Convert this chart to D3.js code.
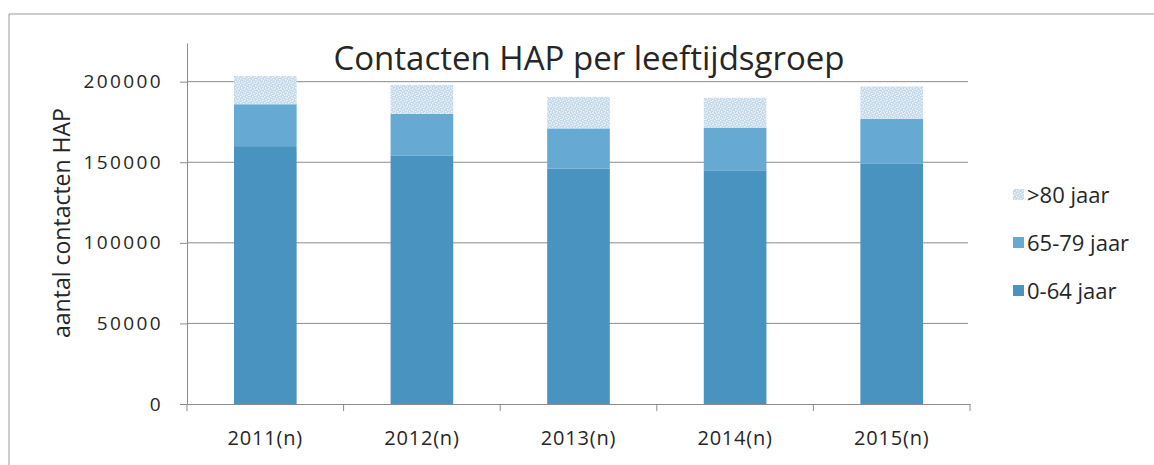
<!DOCTYPE html>
<html>
<head>
<meta charset="utf-8">
<script src="https://cdn.jsdelivr.net/npm/d3@7"></script>
<style>
  body { margin: 0; background: #fff; }
  text { font-family: "Open Sans", "Noto Sans", sans-serif; fill: #262626; }
</style>
</head>
<body>
<svg width="1154" height="465"></svg>
<script>
var svg = d3.select('svg');

// data
const years = ["2011(n)", "2012(n)", "2013(n)", "2014(n)", "2015(n)"];
const age0_64 = [160000, 154000, 146000, 145000, 149000];
const age65_79 = [26000, 26000, 25000, 26500, 28000];
const age80 = [17500, 18000, 19500, 18500, 20000];
const seriesNames = ["0-64 jaar", "65-79 jaar", ">80 jaar"];
const yTicks = [0, 50000, 100000, 150000, 200000];

var rows = years.map((y, i) => ({
    year: y,
    "0-64 jaar": age0_64[i],
    "65-79 jaar": age65_79[i],
    ">80 jaar": age80[i]
}));

var stacked = d3.stack().keys(seriesNames)(rows);

var xScale = d3.scaleBand()
    .domain(years)
    .range([187, 970])
    .paddingInner(0.6)
    .paddingOuter(0.3);

var yScale = d3.scaleLinear()
    .domain([0, 224000])
    .range([404, 43]);

// speckled fill for the >80 group
var defs = svg.append("defs");
var pat = defs.append("pattern")
    .attr("id", "speckle")
    .attr("width", 6)
    .attr("height", 6)
    .attr("patternUnits", "userSpaceOnUse");
pat.append("rect").attr("width", 6).attr("height", 6).attr("fill", "#c3d9ea");
[[0, 0], [3, 1], [1, 3], [4, 4], [5, 2], [2, 5]].forEach(p => {
    pat.append("rect")
        .attr("x", p[0]).attr("y", p[1])
        .attr("width", 1.5).attr("height", 1.5)
        .attr("fill", "#eef4f9");
});

const colors = {
    "0-64 jaar": "#4893c0",
    "65-79 jaar": "#66aad4",
    ">80 jaar": "url(#speckle)"
};

// outer frame (left and top only visible)
svg.append("path")
    .attr("d", "M9,465 L9,14 L1154,14")
    .attr("fill", "none")
    .attr("stroke", "#9a9a9a")
    .attr("stroke-width", 1);

// gridlines
svg.append("g")
    .selectAll("line")
    .data(yTicks.filter(d => d > 0))
    .enter()
    .append("line")
    .attr("x1", 187)
    .attr("x2", 968)
    .attr("y1", d => yScale(d))
    .attr("y2", d => yScale(d))
    .attr("stroke", "#8c8c8c")
    .attr("stroke-width", 1);

// bars
svg.append("g")
    .selectAll("g")
    .data(stacked)
    .enter()
    .append("g")
    .attr("fill", d => colors[d.key])
    .selectAll("rect")
    .data(d => d)
    .enter()
    .append("rect")
    .attr("x", d => xScale(d.data.year))
    .attr("width", xScale.bandwidth())
    .attr("y", d => yScale(d[1]))
    .attr("height", d => yScale(d[0]) - yScale(d[1]));

// y axis
var yAxis = d3.axisLeft(yScale)
    .tickValues(yTicks)
    .tickFormat(d3.format("d"))
    .tickSize(7)
    .tickPadding(17)
    .tickSizeOuter(0);

var gy = svg.append("g")
    .attr("transform", "translate(187, 0)")
    .call(yAxis);
gy.select(".domain").attr("stroke", "#8c8c8c");
gy.selectAll(".tick line").attr("stroke", "#8c8c8c");
gy.selectAll(".tick text")
    .style("font-size", "19px")
    .style("letter-spacing", "2.4px")
    .attr("fill", "#262626");

// x axis
var xAxis = d3.axisBottom(xScale)
    .tickSize(0)
    .tickPadding(27);

var gx = svg.append("g")
    .attr("transform", "translate(0, 404)")
    .call(xAxis);
gx.select(".domain").attr("stroke", "#8c8c8c");
gx.selectAll(".tick text")
    .style("font-size", "20px")
    .style("letter-spacing", "0.8px")
    .attr("fill", "#262626");

// category separator ticks
var step = xScale.step();
svg.append("g")
    .selectAll("line")
    .data(d3.range(years.length + 1))
    .enter()
    .append("line")
    .attr("x1", i => xScale.range()[0] + i * step)
    .attr("x2", i => xScale.range()[0] + i * step)
    .attr("y1", 404)
    .attr("y2", 411)
    .attr("stroke", "#8c8c8c");

// title
svg.append("text")
    .attr("x", 589)
    .attr("y", 70)
    .attr("text-anchor", "middle")
    .style("font-size", "33px")
    .text("Contacten HAP per leeftijdsgroep");

// y label
svg.append("text")
    .attr("transform", "translate(70, 223)rotate(-90)")
    .attr("text-anchor", "middle")
    .style("font-size", "23px")
    .text("aantal contacten HAP");

// legend
const legendOrder = [">80 jaar", "65-79 jaar", "0-64 jaar"];
var legend = svg.append("g")
    .selectAll("g")
    .data(legendOrder)
    .enter()
    .append("g")
    .attr("transform", (d, i) => `translate(1013, ${195 + i * 48})`);

legend.append("rect")
    .attr("x", 0)
    .attr("y", -6)
    .attr("width", 11)
    .attr("height", 11)
    .attr("fill", d => colors[d]);

legend.append("text")
    .attr("x", 14)
    .attr("y", 8)
    .style("font-size", "22px")
    .text(d => d);
</script>
</body>
</html>
